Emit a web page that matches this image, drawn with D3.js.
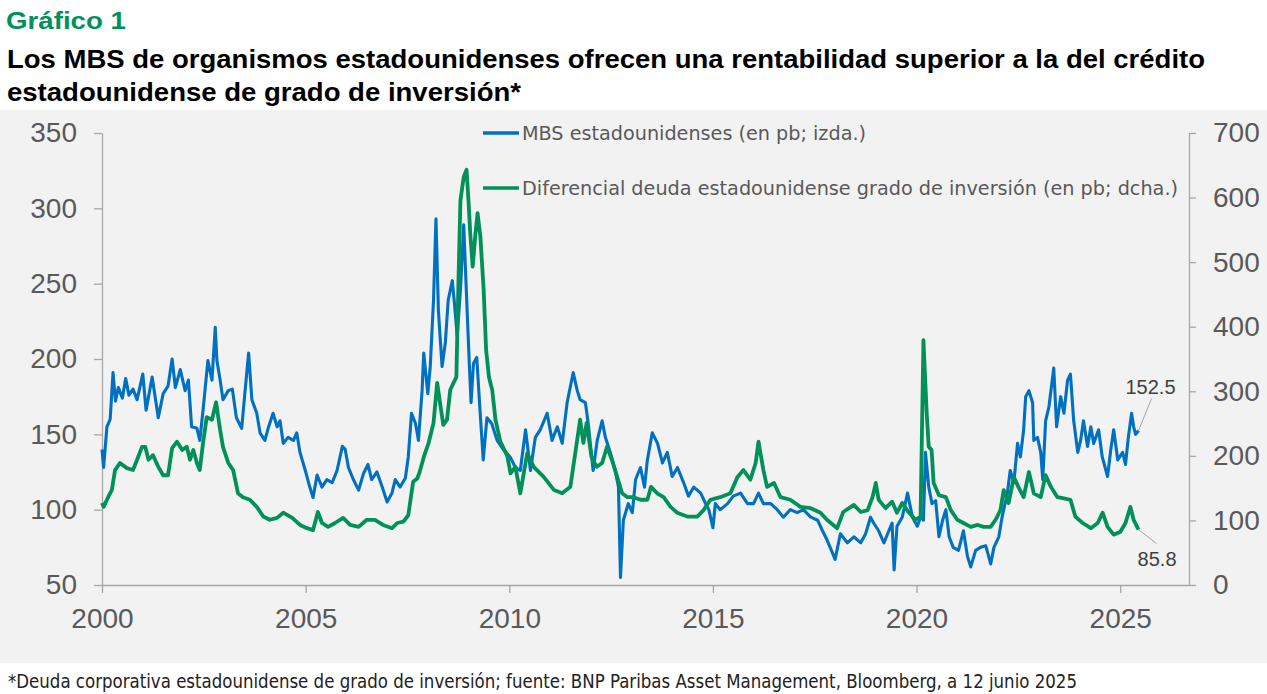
<!DOCTYPE html>
<html>
<head>
<meta charset="utf-8">
<script src="https://cdn.jsdelivr.net/npm/d3@7"></script>
<style>
  html, body { margin: 0; padding: 0; background: #fff; }
  svg { display: block; }
</style>
</head>
<body>
<svg id="chart" width="1267" height="694"></svg>
<script>
// MBS de organismos (pb, eje izdo.) - decimal year / value
var mbsYears = [2000.00,2000.04,2000.12,2000.20,2000.27,2000.33,2000.40,2000.50,2000.58,2000.66,2000.76,2000.86,
  2001.00,2001.08,2001.23,2001.38,2001.50,2001.62,2001.72,2001.80,2001.92,2002.04,2002.12,2002.20,2002.33,2002.40,
  2002.48,2002.60,2002.70,2002.78,2002.82,2002.90,2002.97,2003.10,2003.20,2003.30,2003.43,2003.50,2003.60,2003.68,
  2003.80,2003.88,2004.00,2004.08,2004.20,2004.30,2004.37,2004.45,2004.57,2004.70,2004.78,2004.86,2004.99,2005.10,
  2005.18,2005.28,2005.40,2005.52,2005.65,2005.77,2005.90,2005.97,2006.05,2006.17,2006.30,2006.42,2006.53,2006.62,
  2006.75,2006.88,2007.00,2007.12,2007.20,2007.32,2007.45,2007.52,2007.60,2007.70,2007.77,2007.86,2007.90,2008.00,
  2008.06,2008.14,2008.20,2008.26,2008.35,2008.43,2008.50,2008.60,2008.66,2008.72,2008.80,2008.88,2008.97,2009.02,
  2009.06,2009.12,2009.20,2009.28,2009.36,2009.45,2009.57,2009.70,2009.85,2010.02,2010.15,2010.27,2010.40,2010.52,
  2010.64,2010.76,2010.93,2011.05,2011.18,2011.30,2011.42,2011.57,2011.67,2011.74,2011.87,2011.94,2012.06,2012.16,
  2012.28,2012.36,2012.48,2012.60,2012.68,2012.73,2012.80,2012.92,2013.02,2013.10,2013.22,2013.32,2013.39,2013.51,
  2013.64,2013.76,2013.88,2014.00,2014.13,2014.28,2014.40,2014.53,2014.70,2014.82,2014.90,2015.00,2015.06,2015.18,
  2015.36,2015.50,2015.68,2015.85,2016.00,2016.12,2016.24,2016.42,2016.58,2016.73,2016.90,2017.07,2017.22,2017.40,
  2017.57,2017.69,2017.80,2017.94,2018.00,2018.13,2018.30,2018.46,2018.63,2018.75,2018.87,2018.95,2019.07,2019.20,
  2019.32,2019.40,2019.45,2019.52,2019.65,2019.78,2019.90,2020.02,2020.10,2020.17,2020.22,2020.30,2020.38,2020.47,
  2020.55,2020.64,2020.72,2020.80,2020.90,2021.03,2021.15,2021.25,2021.33,2021.45,2021.57,2021.70,2021.82,2021.90,
  2022.02,2022.10,2022.23,2022.30,2022.39,2022.48,2022.55,2022.63,2022.68,2022.76,2022.85,2022.88,2022.97,2023.05,
  2023.10,2023.17,2023.25,2023.37,2023.44,2023.54,2023.62,2023.71,2023.78,2023.86,2023.96,2024.03,2024.10,2024.20,
  2024.28,2024.35,2024.47,2024.56,2024.69,2024.77,2024.84,2024.94,2025.06,2025.13,2025.20,2025.28,2025.33,2025.38,
  2025.45];
var mbsValues = [140,128,155,160,191,172,181,174,187,176,180,173,
  190,166,188,161,177,182,200,181,193,179,186,155,154,146,
  166,199,186,221,199,186,173,179,180,161,154,175,204,173,
  164,151,146,154,164,155,159,144,148,146,151,138,126,115,
  108,123,115,120,118,126,142,140,128,120,113,124,130,120,
  125,115,105,111,120,115,121,135,164,157,146,179,204,177,
  195,239,293,232,195,211,239,252,235,215,246,289,228,195,
  171,197,201,166,133,161,157,146,140,135,128,126,153,126,
  148,153,164,146,155,144,171,191,179,173,171,157,126,146,
  159,148,138,126,115,55,93,104,98,120,128,115,133,151,
  144,131,138,122,128,118,109,115,111,104,100,88,104,100,
  104,109,111,104,104,111,104,104,100,95,100,98,100,95,
  93,86,80,71,67,84,78,82,78,84,95,91,86,78,
  86,91,60,89,95,111,95,89,95,93,138,115,104,106,
  82,93,100,82,75,73,86,69,62,73,75,76,64,75,
  82,95,111,126,118,144,135,153,175,179,171,146,148,138,
  120,159,168,194,155,175,164,186,190,159,138,146,159,142,
  155,144,153,135,122,140,153,133,138,130,148,164,155,150,
  152.5];

// Diferencial deuda IG EE. UU. (pb, eje dcho.)
var igYears = [2000.00,2000.04,2000.15,2000.24,2000.32,2000.44,2000.61,2000.76,2000.86,2000.98,2001.06,2001.14,
  2001.25,2001.38,2001.50,2001.62,2001.72,2001.84,2001.97,2002.08,2002.16,2002.24,2002.33,2002.40,2002.48,2002.57,
  2002.70,2002.80,2002.90,2002.97,2003.10,2003.22,2003.34,2003.46,2003.63,2003.80,2003.96,2004.12,2004.30,2004.45,
  2004.67,2004.86,2005.03,2005.18,2005.30,2005.40,2005.55,2005.72,2005.92,2006.09,2006.30,2006.50,2006.70,2006.90,
  2007.12,2007.25,2007.40,2007.52,2007.64,2007.74,2007.80,2007.90,2008.02,2008.14,2008.23,2008.30,2008.38,2008.47,
  2008.55,2008.63,2008.70,2008.75,2008.80,2008.88,2008.95,2009.00,2009.04,2009.10,2009.17,2009.22,2009.29,2009.37,
  2009.43,2009.50,2009.58,2009.66,2009.78,2009.95,2010.03,2010.15,2010.27,2010.44,2010.60,2010.85,2011.10,2011.30,
  2011.50,2011.62,2011.74,2011.82,2011.90,2012.02,2012.15,2012.28,2012.40,2012.52,2012.65,2012.77,2012.90,2013.05,
  2013.22,2013.39,2013.48,2013.63,2013.79,2013.96,2014.12,2014.37,2014.62,2014.77,2014.94,2015.18,2015.43,2015.60,
  2015.75,2015.92,2016.05,2016.12,2016.24,2016.33,2016.50,2016.66,2016.90,2017.15,2017.40,2017.64,2017.80,2018.05,
  2018.20,2018.46,2018.63,2018.80,2018.92,2019.00,2019.07,2019.24,2019.40,2019.52,2019.65,2019.80,2019.98,2020.10,
  2020.17,2020.25,2020.30,2020.37,2020.42,2020.55,2020.72,2020.84,2021.00,2021.15,2021.33,2021.50,2021.65,2021.82,
  2021.94,2022.06,2022.14,2022.26,2022.39,2022.50,2022.63,2022.76,2022.88,2023.05,2023.17,2023.30,2023.46,2023.62,
  2023.78,2023.90,2024.08,2024.28,2024.45,2024.57,2024.69,2024.84,2025.00,2025.13,2025.25,2025.33,2025.45];
var igValues = [127,121,136,147,178,189,181,178,194,214,214,194,
  201,183,170,170,212,222,209,214,194,209,189,178,220,260,
  256,283,240,214,189,178,142,136,132,121,106,101,104,112,
  104,93,88,85,113,96,90,96,104,93,90,101,101,93,
  88,96,98,108,160,165,175,198,220,251,313,282,248,256,
  302,313,322,468,596,632,643,592,545,493,545,576,539,457,
  364,322,302,256,222,200,173,183,142,204,183,167,147,142,
  152,204,256,220,251,198,183,189,214,194,167,142,136,136,
  132,132,152,142,136,121,112,106,106,116,132,136,142,167,
  178,163,189,222,178,152,158,136,132,121,119,112,101,88,
  113,124,113,116,136,158,132,119,129,112,127,113,101,106,
  379,266,214,209,158,139,136,116,101,96,90,93,90,90,
  101,116,147,127,167,152,136,175,142,136,170,152,136,134,
  132,106,96,88,96,112,90,78,82,96,121,101,85.8];

var xTickYears = [2000, 2005, 2010, 2015, 2020, 2025];
var leftTicks = [50, 100, 150, 200, 250, 300, 350];
var rightTicks = [0, 100, 200, 300, 400, 500, 600, 700];

var blue = '#0070c0', green = '#00915a', grey = '#595959';

var toDate = function(t){
  var y = Math.floor(t);
  var a = new Date(y, 0, 1), b = new Date(y + 1, 0, 1);
  return new Date(+a + (t - y) * (b - a));
};

var mbs = mbsYears.map(function(t, i){ return {date: toDate(t), value: mbsValues[i]}; });
var ig = igYears.map(function(t, i){ return {date: toDate(t), value: igValues[i]}; });

var svg = d3.select('#chart');

// grey panel
svg.append('rect').attr('x', 0).attr('y', 110).attr('width', 1267).attr('height', 553).attr('fill', '#f2f2f2');

// titles
svg.append('text').attr('x', 6).attr('y', 29)
  .attr('font-family', 'Liberation Sans, Arial, sans-serif').attr('font-weight', 'bold')
  .attr('font-size', 24).attr('fill', green)
  .attr('textLength', 120).attr('lengthAdjust', 'spacingAndGlyphs')
  .text('Gráfico 1');
var titleLines = ['Los MBS de organismos estadounidenses ofrecen una rentabilidad superior a la del crédito',
                  'estadounidense de grado de inversión*'];
var titleWidths = [1198, 514];
titleLines.forEach(function(s, i){
  svg.append('text').attr('x', 7).attr('y', 68 + i * 33)
    .attr('font-family', 'Liberation Sans, Arial, sans-serif').attr('font-weight', 'bold')
    .attr('font-size', 25).attr('fill', '#000')
    .attr('textLength', titleWidths[i]).attr('lengthAdjust', 'spacingAndGlyphs')
    .text(s);
});

// footer
svg.append('text').attr('x', 8).attr('y', 688)
  .attr('font-family', 'Liberation Sans Narrow, DejaVu Sans Condensed, sans-serif')
  .attr('font-size', 19).attr('fill', '#222')
  .attr('textLength', 1069).attr('lengthAdjust', 'spacingAndGlyphs')
  .text('*Deuda corporativa estadounidense de grado de inversión; fuente: BNP Paribas Asset Management, Bloomberg, a 12 junio 2025');

// scales
var x = d3.scaleTime().domain([new Date(2000, 0, 1), new Date(2026, 8, 10)]).range([102, 1189]);
var yL = d3.scaleLinear().domain([50, 350]).range([585, 133]);
var yR = d3.scaleLinear().domain([0, 700]).range([585, 133]);

var styleAxis = function(g){
  g.selectAll('path, line').attr('stroke', '#a6a6a6').attr('stroke-width', 1.3);
  g.selectAll('text').attr('fill', grey).attr('font-size', 28)
    .attr('font-family', 'Liberation Sans, Arial, sans-serif');
};

svg.append('g').attr('transform', 'translate(0,585)')
  .call(d3.axisBottom(x).tickValues(xTickYears.map(function(y){ return new Date(y, 0, 1); }))
    .tickFormat(d3.timeFormat('%Y')).tickSize(8).tickSizeOuter(0).tickPadding(15))
  .call(styleAxis);

svg.append('g').attr('transform', 'translate(102,0)')
  .call(d3.axisLeft(yL).tickValues(leftTicks).tickSize(8).tickSizeOuter(0).tickPadding(17))
  .call(styleAxis);

svg.append('g').attr('transform', 'translate(1189,0)')
  .call(d3.axisRight(yR).tickValues(rightTicks).tickSize(7).tickSizeOuter(0).tickPadding(17))
  .call(styleAxis);

// lines
var lineL = d3.line().x(function(d){ return x(d.date); }).y(function(d){ return yL(d.value); });
var lineR = d3.line().x(function(d){ return x(d.date); }).y(function(d){ return yR(d.value); });

svg.append('path').datum(mbs).attr('d', lineL)
  .attr('fill', 'none').attr('stroke', blue).attr('stroke-width', 3.1).attr('stroke-linejoin', 'round');
svg.append('path').datum(ig).attr('d', lineR)
  .attr('fill', 'none').attr('stroke', green).attr('stroke-width', 3.8).attr('stroke-linejoin', 'round');

// end labels
var lastM = mbs[mbs.length - 1], lastI = ig[ig.length - 1];
var lx = x(lastM.date), ly = yL(lastM.value);
svg.append('line').attr('x1', lx).attr('y1', ly).attr('x2', lx + 13).attr('y2', ly - 32)
  .attr('stroke', '#a6a6a6').attr('stroke-width', 1);
svg.append('text').attr('x', lx + 37).attr('y', ly - 37).attr('text-anchor', 'end')
  .attr('font-family', 'Liberation Sans, Arial, sans-serif').attr('font-size', 20).attr('fill', '#404040')
  .text(lastM.value.toFixed(1));
var gx = x(lastI.date), gy = yR(lastI.value);
svg.append('line').attr('x1', gx).attr('y1', gy).attr('x2', gx + 18).attr('y2', gy + 14)
  .attr('stroke', '#a6a6a6').attr('stroke-width', 1);
svg.append('text').attr('x', gx + 38).attr('y', gy + 36).attr('text-anchor', 'end')
  .attr('font-family', 'Liberation Sans, Arial, sans-serif').attr('font-size', 20).attr('fill', '#404040')
  .text(lastI.value.toFixed(1));

// legend
var legend = [
  {label: 'MBS estadounidenses (en pb; izda.)', color: blue, y: 133, w: 344},
  {label: 'Diferencial deuda estadounidense grado de inversión (en pb; dcha.)', color: green, y: 188, w: 656}
];
legend.forEach(function(d){
  svg.append('line').attr('x1', 483).attr('x2', 519).attr('y1', d.y).attr('y2', d.y)
    .attr('stroke', d.color).attr('stroke-width', 3.5);
  svg.append('text').attr('x', 522).attr('y', d.y + 7)
    .attr('font-family', 'Liberation Sans Narrow, DejaVu Sans Condensed, sans-serif')
    .attr('font-size', 20).attr('fill', grey)
    .attr('textLength', d.w).attr('lengthAdjust', 'spacingAndGlyphs')
    .text(d.label);
});
</script>
</body>
</html>
